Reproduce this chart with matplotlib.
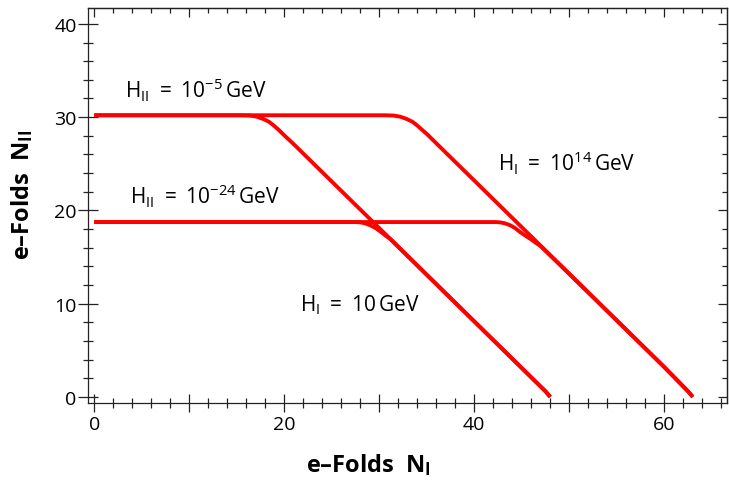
"""
e-folds of the second inflation stage against the first,
for two values of H_I and two values of H_II.
"""
import matplotlib
matplotlib.use('Agg')
import matplotlib.pyplot as plt
from matplotlib.ticker import MultipleLocator, FuncFormatter

plt.rcParams['font.family'] = ['Open Sans', 'DejaVu Sans']
plt.rcParams['mathtext.fontset'] = 'custom'
plt.rcParams['mathtext.rm'] = 'Open Sans'
plt.rcParams['mathtext.it'] = 'Open Sans:italic'
plt.rcParams['mathtext.bf'] = 'Open Sans:bold'

# H_II = 1e-5 GeV, H_I = 10 GeV
n1_a = [0, 15.5, 16.4, 17.1, 17.8, 18.4, 18.9, 19.4, 19.9, 21.0, 22.0, 25.0, 30.0, 35.0, 40.0, 45.0, 47.5, 48.0]
n2_a = [30.2, 30.2, 30.17, 30.05, 29.8, 29.5, 29.1, 28.65, 28.15, 27.1, 26.1, 23.1, 18.1, 13.1, 8.1, 3.1, 0.6, 0.0]

# H_II = 1e-5 GeV, H_I = 1e14 GeV
n1_b = [0, 30.6, 31.5, 32.2, 32.9, 33.5, 34.0, 34.5, 35.0, 36.0, 37.0, 40.0, 45.0, 50.0, 55.0, 60.0, 62.5, 63.0]
n2_b = [30.2, 30.2, 30.17, 30.05, 29.8, 29.5, 29.1, 28.65, 28.2, 27.2, 26.2, 23.2, 18.2, 13.2, 8.2, 3.2, 0.6, 0.0]

# H_II = 1e-24 GeV, H_I = 10 GeV
n1_c = [0, 27.5, 28.0, 28.5, 29.05, 29.6, 30.1, 30.6, 31.2, 32.5, 35.0, 40.0, 45.0, 47.5, 48.0]
n2_c = [18.75, 18.75, 18.72, 18.62, 18.4, 18.12, 17.75, 17.35, 16.9, 15.6, 13.1, 8.1, 3.1, 0.6, 0.0]

# H_II = 1e-24 GeV, H_I = 1e14 GeV
n1_d = [0, 42.2, 42.7, 43.2, 43.8, 44.3, 44.8, 45.3, 45.9, 47.0, 50.0, 55.0, 60.0, 62.5, 63.0]
n2_d = [18.75, 18.75, 18.72, 18.62, 18.4, 18.1, 17.7, 17.35, 16.95, 16.15, 13.2, 8.2, 3.2, 0.6, 0.0]

fig = plt.figure(figsize=(7.29, 4.81), dpi=100)
ax = fig.add_axes([88 / 729, 77 / 481, 639 / 729, 395 / 481])

for xs, ys in [(n1_a, n2_a), (n1_b, n2_b), (n1_c, n2_c), (n1_d, n2_d)]:
	ax.plot(xs, ys, color='#ff0000', lw=2.8, solid_capstyle='butt', solid_joinstyle='round')

ax.set_xlim(-0.65, 66.6)
ax.set_ylim(-0.65, 41.7)

frame = '#222222'
for s in ax.spines.values():
	s.set_color(frame)
	s.set_linewidth(0.9)

ax.xaxis.set_major_locator(MultipleLocator(10))
ax.xaxis.set_minor_locator(MultipleLocator(2))
ax.yaxis.set_major_locator(MultipleLocator(10))
ax.yaxis.set_minor_locator(MultipleLocator(2))
ax.xaxis.set_major_formatter(FuncFormatter(lambda v, p: f'{v:.0f}' if round(v) % 20 == 0 else ''))

ax.tick_params(axis='x', which='major', direction='inout', length=12.7, width=0.9, color=frame, labelsize=14, pad=2)
ax.tick_params(axis='x', which='minor', direction='inout', length=7, width=0.9, color=frame)
ax.tick_params(axis='y', which='major', direction='inout', length=14.4, width=0.9, color=frame, labelsize=14, pad=1)
ax.tick_params(axis='y', which='minor', direction='inout', length=7, width=0.9, color=frame)

# inward ticks on the top and right edges
top = ax.secondary_xaxis('top')
top.xaxis.set_major_locator(MultipleLocator(10))
top.xaxis.set_minor_locator(MultipleLocator(2))
right = ax.secondary_yaxis('right')
right.yaxis.set_major_locator(MultipleLocator(10))
right.yaxis.set_minor_locator(MultipleLocator(2))
for sec in (top, right):
	sec.tick_params(which='major', direction='in', length=6.5, width=0.9, color=frame)
	sec.tick_params(which='minor', direction='in', length=3.3, width=0.9, color=frame)
	for s in sec.spines.values():
		s.set_color(frame)
		s.set_linewidth(0.9)
top.set_xticklabels([])
right.set_yticklabels([])

ax.text(3.26, 32.15, r'$\mathrm{H_{II}\ =\ 10^{-5}\,GeV}$', fontsize=15, va='baseline')
ax.text(3.8, 20.8, r'$\mathrm{H_{II}\ =\ 10^{-24}\,GeV}$', fontsize=15, va='baseline')
ax.text(42.5, 24.25, r'$\mathrm{H_{I}\ =\ 10^{14}\,GeV}$', fontsize=15, va='baseline')
ax.text(21.7, 9.3, r'$\mathrm{H_{I}\ =\ 10\,GeV}$', fontsize=15, va='baseline')

fig.text(368 / 729, 1 - 465 / 481, r'e–Folds  $\mathbf{N_{I}}$', fontsize=17, fontweight='bold', ha='center', va='center')
fig.text(22 / 729, 1 - 195 / 481, r'e–Folds  $\mathbf{N_{II}}$', fontsize=17, fontweight='bold', ha='center', va='center', rotation=90)

fig.savefig('out.png', dpi=100)
